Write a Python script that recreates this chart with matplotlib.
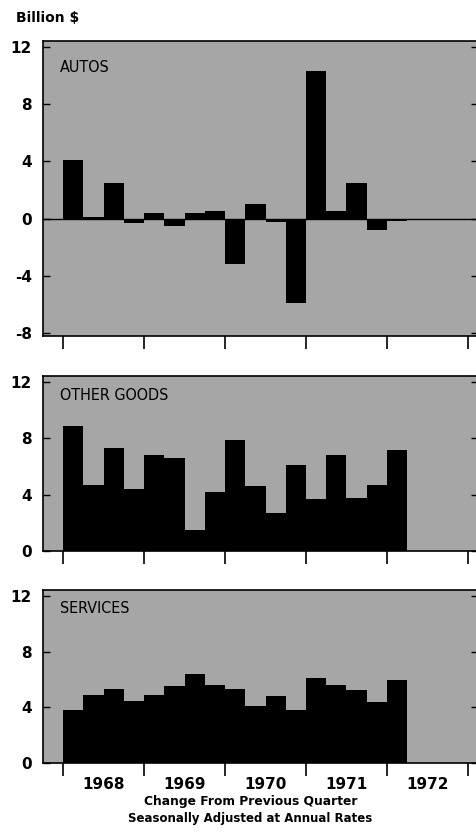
import matplotlib.pyplot as plt
import numpy as np

# quarterly changes, 1968 Q1 - 1972 Q1, billion $
autos = [4.1, 0.1, 2.5, -0.3, 0.4, -0.5, 0.4, 0.55, -3.2, 1.0, -0.25, -5.9,
         10.3, 0.55, 2.5, -0.8, -0.15]
other_goods = [8.85, 4.7, 7.3, 4.4, 6.8, 6.6, 1.5, 4.2, 7.9, 4.6, 2.7, 6.1,
               3.7, 6.8, 3.75, 4.7, 7.2]
services = [3.8, 4.9, 5.35, 4.5, 4.9, 5.55, 6.4, 5.65, 5.3, 4.1, 4.8, 3.85,
            6.1, 5.6, 5.25, 4.4, 6.0]
years = ["1968", "1969", "1970", "1971", "1972"]

panels = [
    ("AUTOS", autos, [0.090, 0.597, 0.912, 0.354], (-8.2, 12.4), [-8, -4, 0, 4, 8, 12]),
    ("OTHER GOODS", other_goods, [0.090, 0.339, 0.912, 0.210], (0, 12.4), [0, 4, 8, 12]),
    ("SERVICES", services, [0.090, 0.0851, 0.912, 0.2074], (0, 12.45), [0, 4, 8, 12]),
]

bg = "#a6a6a6"

fig = plt.figure(figsize=(4.77, 8.34), dpi=100)

for name, vals, rect, ylim, yticks in panels:
    ax = fig.add_axes(rect)
    ax.set_facecolor(bg)
    x = np.arange(len(vals))
    ax.bar(x, vals, width=1.0, align="edge", color="black", linewidth=0)
    if ylim[0] < 0:
        ax.axhline(0, color="black", linewidth=1.0)
    ax.set_xlim(-1, 20.5)
    ax.set_ylim(*ylim)

    ax.set_yticks(yticks)
    ax.set_yticklabels([str(t) for t in yticks], fontsize=11, fontweight="bold")
    ax.tick_params(axis="y", direction="in", length=5, width=1, pad=8,
                   right=True)

    ax.set_xticks(np.arange(0, 21, 4))
    ax.tick_params(axis="x", direction="out", length=9, width=1.2)
    ax.set_xticklabels([])
    if name == "SERVICES":
        ax.set_xticks(np.arange(2, 20, 4) + 0.0, minor=True)
        ax.set_xticklabels(years, minor=True, fontsize=11, fontweight="bold")
        ax.tick_params(axis="x", which="minor", length=0, pad=10)

    for side in ["top", "left", "bottom"]:
        ax.spines[side].set_linewidth(1.2)
    ax.spines["right"].set_visible(False)

    ax.text(0.04, 0.935, name, transform=ax.transAxes, family="DejaVu Sans",
            fontstretch="condensed", fontsize=11.5, va="top", ha="left")

fig.text(0.034, 0.978, "Billion $", fontsize=10, fontweight="bold",
         ha="left", va="center")
fig.text(0.525, 0.039, "Change From Previous Quarter", fontsize=8.8,
         fontweight="bold", ha="center", va="center")
fig.text(0.525, 0.018, "Seasonally Adjusted at Annual Rates", fontsize=8.5,
         fontweight="bold", ha="center", va="center")

fig.savefig("out.png", dpi=100)
